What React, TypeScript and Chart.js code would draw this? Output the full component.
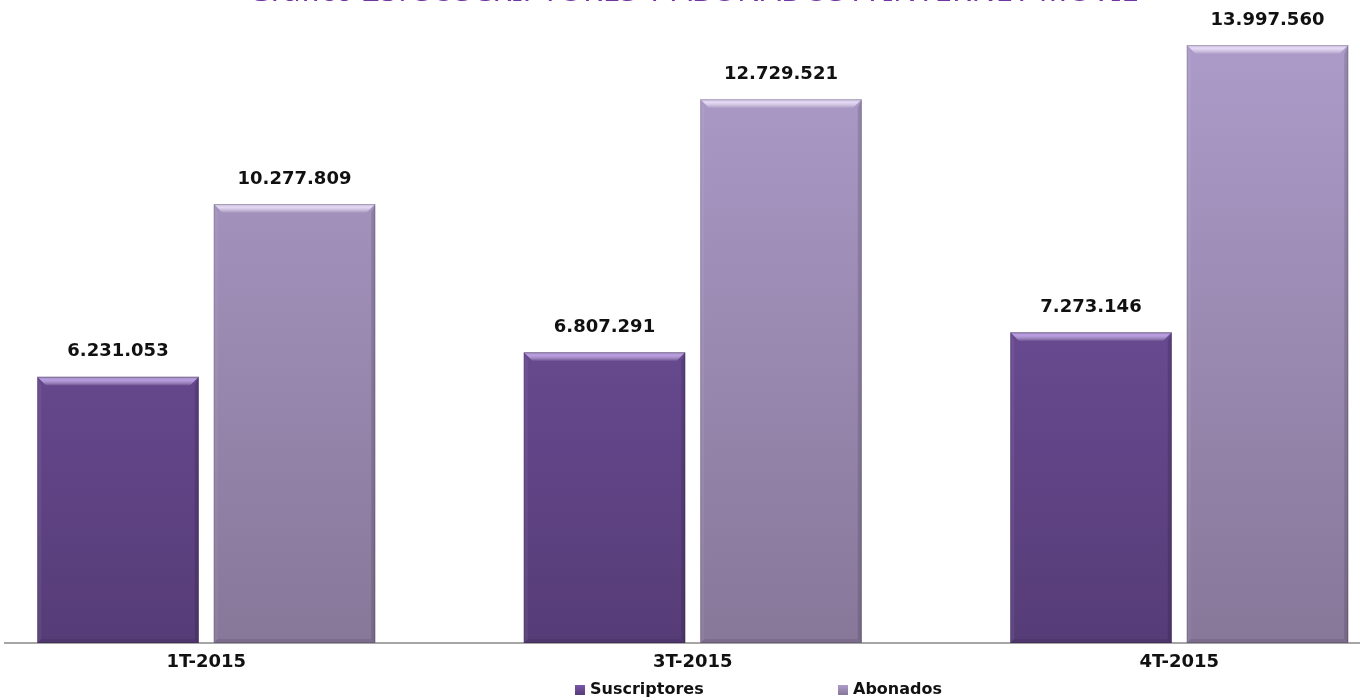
import { useEffect, useRef } from "react";
import { Chart, registerables } from "chart.js";

Chart.register(...registerables);

const categories = ["1T-2015", "3T-2015", "4T-2015"];
const suscriptores = [6231053, 6807291, 7273146];
const abonados = [10277809, 12729521, 13997560];
const seriesNames = ["Suscriptores", "Abonados"];
const chartTitle = "Gráfico 23: SUSCRIPTORES Y ABONADOS A INTERNET MÓVIL";

const seriesTop = ["#7a57aa", "#ae9dcb"];
const seriesBottom = ["#563c77", "#877799"];
const seriesHighlight = ["rgba(200,170,245,0.85)", "rgba(236,224,252,0.9)"];

const fmt = (v: number) => String(v).replace(/\B(?=(\d{3})+(?!\d))/g, ".");

const makeFill = (i: number) => (ctx: any) => {
  const chart = ctx.chart;
  const area = chart.chartArea;
  if (!area) return seriesTop[i];
  const g = chart.ctx.createLinearGradient(0, area.top, 0, area.bottom);
  g.addColorStop(0, seriesTop[i]);
  g.addColorStop(1, seriesBottom[i]);
  return g;
};

const bevelPlugin = {
  id: "bevel",
  afterDatasetsDraw(chart: any) {
    const ctx = chart.ctx;
    chart.data.datasets.forEach((_: any, di: number) => {
      const meta = chart.getDatasetMeta(di);
      meta.data.forEach((el: any) => {
        const { x, y, base, width } = el.getProps(["x", "y", "base", "width"], true);
        const l = x - width / 2;
        const r = x + width / 2;
        const t = Math.min(y, base);
        const b = Math.max(y, base);
        const s = 9;
        const side = 4;
        ctx.save();
        const gt = ctx.createLinearGradient(0, t, 0, t + s);
        gt.addColorStop(0, "rgba(255,255,255,0.25)");
        gt.addColorStop(0.35, seriesHighlight[di]);
        gt.addColorStop(1, "rgba(255,255,255,0.0)");
        ctx.fillStyle = gt;
        ctx.beginPath();
        ctx.moveTo(l, t);
        ctx.lineTo(r, t);
        ctx.lineTo(r - s, t + s);
        ctx.lineTo(l + s, t + s);
        ctx.closePath();
        ctx.fill();
        ctx.fillStyle = "rgba(255,255,255,0.06)";
        ctx.beginPath();
        ctx.moveTo(l, t);
        ctx.lineTo(l + side, t + s);
        ctx.lineTo(l + side, b - side);
        ctx.lineTo(l, b);
        ctx.closePath();
        ctx.fill();
        ctx.fillStyle = "rgba(0,0,0,0.13)";
        ctx.beginPath();
        ctx.moveTo(r, t);
        ctx.lineTo(r - side, t + s);
        ctx.lineTo(r - side, b - side);
        ctx.lineTo(r, b);
        ctx.closePath();
        ctx.fill();
        ctx.fillStyle = "rgba(0,0,0,0.08)";
        ctx.beginPath();
        ctx.moveTo(l, b);
        ctx.lineTo(l + side, b - side);
        ctx.lineTo(r - side, b - side);
        ctx.lineTo(r, b);
        ctx.closePath();
        ctx.fill();
        ctx.strokeStyle = "rgba(0,0,0,0.14)";
        ctx.lineWidth = 1;
        ctx.strokeRect(l + 0.5, t + 0.5, width - 1, b - t - 1);
        ctx.restore();
      });
    });
  },
};

const labelPlugin = {
  id: "valueLabels",
  afterDatasetsDraw(chart: any) {
    const ctx = chart.ctx;
    ctx.save();
    ctx.font = "bold 18px 'DejaVu Sans', Verdana, sans-serif";
    ctx.fillStyle = "#111111";
    ctx.textAlign = "center";
    ctx.textBaseline = "middle";
    chart.data.datasets.forEach((ds: any, di: number) => {
      const meta = chart.getDatasetMeta(di);
      meta.data.forEach((el: any, i: number) => {
        const { x, y } = el.getProps(["x", "y"], true);
        ctx.fillText(fmt(ds.data[i]), x, y - 25);
      });
    });
    ctx.restore();
  },
};

const legendPlugin = {
  id: "customLegend",
  afterDraw(chart: any) {
    const ctx = chart.ctx;
    const cx = chart.width / 2;
    const yc = chart.chartArea.bottom + 47;
    const offsets = [-120, 143];
    ctx.save();
    ctx.font = "bold 16px 'DejaVu Sans', Verdana, sans-serif";
    ctx.textBaseline = "middle";
    ctx.textAlign = "left";
    seriesNames.forEach((name, i) => {
      const bx = cx + offsets[i];
      const g = ctx.createLinearGradient(0, yc - 5, 0, yc + 5);
      g.addColorStop(0, seriesTop[i]);
      g.addColorStop(1, seriesBottom[i]);
      ctx.fillStyle = g;
      ctx.fillRect(bx, yc - 5, 10, 10);
      ctx.fillStyle = "#111111";
      ctx.fillText(name, bx + 15, yc);
    });
    ctx.restore();
  },
};

export default function App() {
  const ref = useRef<HTMLCanvasElement | null>(null);
  useEffect(() => {
    if (!ref.current) return;
    const chart = new Chart(ref.current, {
      type: "bar",
      data: {
        labels: categories,
        datasets: [
          {
            label: seriesNames[0],
            data: suscriptores,
            backgroundColor: makeFill(0),
            categoryPercentage: 0.7256,
            barPercentage: 0.915,
          },
          {
            label: seriesNames[1],
            data: abonados,
            backgroundColor: makeFill(1),
            categoryPercentage: 0.7256,
            barPercentage: 0.915,
          },
        ],
      },
      options: {
        animation: false,
        responsive: false,
        maintainAspectRatio: false,
        layout: { padding: { left: 13, right: 17.5, bottom: 37.4, top: 0 } },
        plugins: {
          legend: { display: false },
          tooltip: { enabled: false },
          title: {
            display: true,
            text: chartTitle,
            color: "#7335a3",
            font: { family: "'Noto Sans', sans-serif", size: 31.5, weight: "normal" },
            padding: { top: 13.5, bottom: 0 },
          },
        },
        scales: {
          x: {
            grid: { display: false, drawTicks: false },
            border: { display: true, color: "#a6a6a6", width: 2 },
            ticks: {
              color: "#111111",
              padding: 9,
              font: { family: "'DejaVu Sans', Verdana, sans-serif", size: 18, weight: "bold" },
            },
          },
          y: {
            display: false,
            min: 0,
            max: 14788000,
          },
        },
      },
      plugins: [bevelPlugin, labelPlugin, legendPlugin],
    });
    return () => chart.destroy();
  }, []);
  return (
    <div
      style={{
        position: "fixed",
        left: 4,
        top: 0,
        width: 1356,
        height: 698,
        overflow: "hidden",
        background: "#ffffff",
      }}
    >
      <canvas
        ref={ref}
        width={1490}
        height={760}
        style={{ position: "absolute", left: -54, top: -40, width: 1490, height: 760 }}
      />
    </div>
  );
}
